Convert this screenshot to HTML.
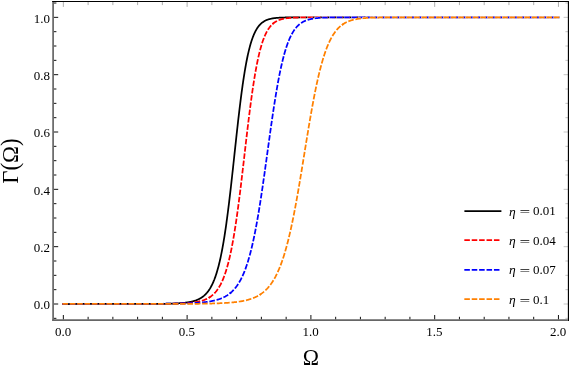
<!DOCTYPE html><html><head><meta charset="utf-8"><style>html,body{margin:0;padding:0;background:#fff}svg{display:block;will-change:transform}text{font-family:"Liberation Serif",serif;fill:#000}</style></head><body>
<svg width="569" height="366" viewBox="0 0 569 366">
<rect width="569" height="366" fill="#fff"/>
<defs>
<path id="c0s0" d="M63.35 304.00 L83.51 303.99 L103.67 303.99 L107.91 303.99 L108.26 303.99 L108.62 303.99 L108.97 303.99 L109.32 303.99 L109.68 303.99 L110.03 303.99 L110.38 303.99 L110.74 303.99 L111.09 303.99 L111.45 303.99 L111.80 303.99 L112.15 303.99 L112.51 303.99 L112.86 303.99 L113.21 303.99 L113.57 303.99 L113.92 303.99 L114.27 303.99 L114.63 303.99 L114.98 303.99 L115.34 303.99 L115.69 303.99 L116.04 303.99 L116.40 303.99 L116.75 303.99 L117.10 303.99 L117.46 303.99 L117.81 303.99 L118.16 303.99 L118.52 303.99 L118.87 303.98 L119.23 303.98 L119.58 303.98 L119.93 303.98 L120.29 303.98 L120.64 303.98 L120.99 303.98 L121.35 303.98 L121.70 303.98 L122.05 303.98 L122.41 303.98 L122.76 303.98 L123.12 303.98 L123.47 303.98 L123.82 303.98 L124.18 303.98 L124.53 303.98 L124.88 303.98 L125.24 303.98 L125.59 303.98 L125.94 303.98 L126.30 303.98 L126.65 303.98 L127.01 303.98 L127.36 303.98 L127.71 303.98 L128.07 303.98 L128.42 303.98 L128.77 303.98 L129.13 303.98 L129.48 303.98 L129.83 303.97 L130.19 303.97 L130.54 303.97 L130.90 303.97 L131.25 303.97 L131.60 303.97 L131.96 303.97 L132.31 303.97 L132.66 303.97 L133.02 303.97 L133.37 303.97 L133.72 303.97 L134.08 303.97 L134.43 303.97 L134.79 303.97 L135.14 303.97 L135.49 303.97 L135.85 303.97 L136.20 303.96 L136.55 303.96 L136.91 303.96 L137.26 303.96 L137.62 303.96 L137.97 303.96 L138.32 303.96 L138.68 303.96 L139.03 303.96 L139.38 303.96 L139.74 303.96 L140.09 303.96 L140.44 303.96 L140.80 303.95 L141.15 303.95 L141.51 303.95 L141.86 303.95 L142.21 303.95 L142.57 303.95 L142.92 303.95 L143.27 303.95 L143.63 303.95 L143.98 303.94 L144.33 303.94 L144.69 303.94 L145.04 303.94 L145.40 303.94 L145.75 303.94 L146.10 303.94 L146.46 303.94 L146.81 303.93 L147.16 303.93 L147.52 303.93 L147.87 303.93 L148.22 303.93 L148.58 303.93 L148.93 303.92 L149.29 303.92 L149.64 303.92 L149.99 303.92 L150.35 303.92 L150.70 303.91 L151.05 303.91 L151.41 303.91 L151.76 303.91 L152.11 303.91 L152.47 303.90 L152.82 303.90 L153.18 303.90 L153.53 303.90 L153.88 303.89 L154.24 303.89 L154.59 303.89 L154.94 303.89 L155.30 303.88 L155.65 303.88 L156.00 303.88 L156.36 303.87 L156.71 303.87 L157.07 303.87 L157.42 303.87 L157.77 303.86 L158.13 303.86 L158.48 303.85 L158.83 303.85 L159.19 303.85 L159.54 303.84 L159.89 303.84 L160.25 303.83 L160.60 303.83 L160.96 303.83 L161.31 303.82 L161.66 303.82 L162.02 303.81 L162.37 303.81 L162.72 303.80 L163.08 303.80 L163.43 303.79 L163.78 303.78 L164.14 303.78 L164.49 303.77 L164.85 303.77 L165.20 303.76 L165.55 303.75 L165.91 303.75 L166.26 303.74 L166.61 303.73 L166.97 303.72 L167.32 303.72 L167.67 303.71 L168.03 303.70 L168.38 303.69 L168.74 303.68 L169.09 303.67 L169.44 303.66 L169.80 303.65 L170.15 303.64 L170.50 303.63 L170.86 303.62 L171.21 303.61 L171.56 303.60 L171.92 303.59 L172.27 303.58 L172.63 303.56 L172.98 303.55 L173.33 303.54 L173.69 303.52 L174.04 303.51 L174.39 303.50 L174.75 303.48 L175.10 303.46 L175.45 303.45 L175.81 303.43 L176.16 303.41 L176.52 303.40 L176.87 303.38 L177.22 303.36 L177.58 303.34 L177.93 303.32 L178.28 303.30 L178.64 303.27 L178.99 303.25 L179.34 303.23 L179.70 303.20 L180.05 303.18 L180.41 303.15 L180.76 303.12 L181.11 303.10 L181.47 303.07 L181.82 303.04 L182.17 303.01 L182.53 302.97 L182.88 302.94 L183.23 302.91 L183.59 302.87 L183.94 302.83 L184.30 302.80 L184.65 302.76 L185.00 302.72 L185.36 302.67 L185.71 302.63 L186.06 302.58 L186.42 302.54 L186.77 302.49 L187.12 302.44 L187.48 302.38 L187.83 302.33 L188.19 302.27 L188.54 302.22 L188.89 302.15 L189.25 302.09 L189.60 302.03 L189.95 301.96 L190.31 301.89 L190.66 301.82 L191.02 301.74 L191.37 301.66 L191.72 301.58 L192.08 301.50 L192.43 301.41 L192.78 301.32 L193.14 301.23 L193.49 301.13 L193.84 301.03 L194.20 300.92 L194.55 300.81 L194.91 300.70 L195.26 300.58 L195.61 300.46 L195.97 300.34 L196.32 300.20 L196.67 300.07 L197.03 299.93 L197.38 299.78 L197.73 299.63 L198.09 299.47 L198.44 299.31 L198.80 299.13 L199.15 298.96 L199.50 298.77 L199.86 298.58 L200.21 298.38 L200.56 298.18 L200.92 297.96 L201.27 297.74 L201.62 297.51 L201.98 297.27 L202.33 297.02 L202.69 296.76 L203.04 296.50 L203.39 296.22 L203.75 295.93 L204.10 295.63 L204.45 295.31 L204.81 294.99 L205.16 294.65 L205.51 294.30 L205.87 293.94 L206.22 293.56 L206.58 293.16 L206.93 292.76 L207.28 292.33 L207.64 291.89 L207.99 291.43 L208.34 290.96 L208.70 290.47 L209.05 289.95 L209.40 289.42 L209.76 288.87 L210.11 288.30 L210.47 287.70 L210.82 287.08 L211.17 286.44 L211.53 285.78 L211.88 285.08 L212.23 284.37 L212.59 283.62 L212.94 282.85 L213.29 282.05 L213.65 281.22 L214.00 280.36 L214.36 279.47 L214.71 278.54 L215.06 277.58 L215.42 276.59 L215.77 275.56 L216.12 274.50 L216.48 273.39 L216.83 272.25 L217.18 271.07 L217.54 269.84 L217.89 268.58 L218.25 267.27 L218.60 265.92 L218.95 264.52 L219.31 263.07 L219.66 261.58 L220.01 260.04 L220.37 258.46 L220.72 256.82 L221.07 255.13 L221.43 253.39 L221.78 251.59 L222.14 249.75 L222.49 247.85 L222.84 245.89 L223.20 243.88 L223.55 241.82 L223.90 239.70 L224.26 237.52 L224.61 235.29 L224.96 233.00 L225.32 230.66 L225.67 228.26 L226.03 225.81 L226.38 223.30 L226.73 220.74 L227.09 218.12 L227.44 215.46 L227.79 212.74 L228.15 209.97 L228.50 207.15 L228.85 204.29 L229.21 201.38 L229.56 198.43 L229.92 195.43 L230.27 192.40 L230.62 189.33 L230.98 186.23 L231.33 183.09 L231.68 179.93 L232.04 176.74 L232.39 173.53 L232.74 170.30 L233.10 167.05 L233.45 163.78 L233.81 160.51 L234.16 157.23 L234.51 153.95 L234.87 150.67 L235.22 147.39 L235.57 144.12 L235.93 140.86 L236.28 137.61 L236.63 134.38 L236.99 131.18 L237.34 127.99 L237.70 124.84 L238.05 121.71 L238.40 118.62 L238.76 115.56 L239.11 112.54 L239.46 109.57 L239.82 106.64 L240.17 103.75 L240.53 100.91 L240.88 98.12 L241.23 95.39 L241.59 92.70 L241.94 90.08 L242.29 87.51 L242.65 84.99 L243.00 82.53 L243.35 80.14 L243.71 77.80 L244.06 75.52 L244.42 73.31 L244.77 71.15 L245.12 69.05 L245.48 67.02 L245.83 65.04 L246.18 63.12 L246.54 61.27 L246.89 59.47 L247.24 57.73 L247.60 56.05 L247.95 54.42 L248.31 52.85 L248.66 51.34 L249.01 49.87 L249.37 48.46 L249.72 47.10 L250.07 45.80 L250.43 44.54 L250.78 43.33 L251.13 42.16 L251.49 41.04 L251.84 39.97 L252.20 38.94 L252.55 37.95 L252.90 37.00 L253.26 36.08 L253.61 35.21 L253.96 34.37 L254.32 33.57 L254.67 32.81 L255.02 32.07 L255.38 31.37 L255.73 30.70 L256.09 30.06 L256.44 29.44 L256.79 28.86 L257.15 28.30 L257.50 27.76 L257.85 27.25 L258.21 26.76 L258.56 26.30 L258.91 25.86 L259.27 25.43 L259.62 25.03 L259.98 24.65 L260.33 24.28 L260.68 23.93 L261.04 23.60 L261.39 23.28 L261.74 22.98 L262.10 22.69 L262.45 22.42 L262.80 22.16 L263.16 21.92 L263.51 21.68 L263.87 21.46 L264.22 21.24 L264.57 21.04 L264.93 20.85 L265.28 20.67 L265.63 20.50 L265.99 20.33 L266.34 20.17 L266.69 20.03 L267.05 19.89 L267.40 19.75 L267.76 19.62 L268.11 19.50 L268.46 19.39 L268.82 19.28 L269.17 19.18 L269.52 19.08 L269.88 18.99 L270.23 18.90 L270.58 18.82 L270.94 18.74 L271.29 18.66 L271.65 18.59 L272.00 18.52 L272.35 18.46 L272.71 18.40 L273.06 18.34 L273.41 18.29 L273.77 18.24 L274.12 18.19 L274.47 18.14 L274.83 18.10 L275.18 18.06 L275.54 18.02 L275.89 17.98 L276.24 17.95 L276.60 17.91 L276.95 17.88 L277.30 17.85 L277.66 17.83 L278.01 17.80 L278.36 17.77 L278.72 17.75 L279.07 17.73 L279.43 17.71 L279.78 17.69 L280.13 17.67 L280.49 17.65 L280.84 17.63 L281.19 17.62 L281.55 17.60 L281.90 17.59 L282.25 17.57 L282.61 17.56 L282.96 17.55 L283.32 17.54 L283.67 17.53 L284.02 17.52 L284.38 17.51 L284.73 17.50 L285.08 17.49 L285.44 17.48 L285.79 17.47 L286.15 17.47 L286.50 17.46 L286.85 17.45 L287.21 17.45 L287.56 17.44 L287.91 17.44 L288.27 17.43 L288.62 17.43 L288.97 17.42 L289.33 17.42 L289.68 17.41 L290.04 17.41 L290.39 17.41 L290.74 17.40 L291.10 17.40 L291.45 17.40 L291.80 17.39 L292.16 17.39 L292.51 17.39 L292.86 17.39 L293.22 17.38 L293.57 17.38 L293.93 17.38 L294.28 17.38 L294.63 17.38 L294.99 17.38 L295.34 17.37 L295.69 17.37 L296.05 17.37 L296.40 17.37 L296.75 17.37 L297.11 17.37 L297.46 17.37 L297.82 17.37 L298.17 17.36 L298.52 17.36 L298.88 17.36 L299.23 17.36 L299.58 17.36 L299.94 17.36 L302.77 17.36 L308.42 17.35 L328.58 17.35 L348.74 17.35 L368.90 17.35 L389.06 17.35 L409.21 17.35 L429.37 17.35 L449.53 17.35 L469.69 17.35 L489.84 17.35 L510.00 17.35 L530.16 17.35 L550.32 17.35 L558.45 17.35"/>
<path id="c1s0" d="M63.35 303.99 L83.51 303.99 L103.67 303.99 L105.79 303.99 L106.14 303.99 L106.49 303.99 L106.85 303.99 L107.20 303.99 L107.56 303.99 L107.91 303.99 L108.26 303.99 L108.62 303.99 L108.97 303.99 L109.32 303.99 L109.68 303.99 L110.03 303.99 L110.38 303.99 L110.74 303.99 L111.09 303.99 L111.45 303.99 L111.80 303.99 L112.15 303.99 L112.51 303.99 L112.86 303.99 L113.21 303.99 L113.57 303.99 L113.92 303.99 L114.27 303.99 L114.63 303.99 L114.98 303.99 L115.34 303.99 L115.69 303.99 L116.04 303.99 L116.40 303.99 L116.75 303.99 L117.10 303.99 L117.46 303.99 L117.81 303.99 L118.16 303.99 L118.52 303.98 L118.87 303.98 L119.23 303.98 L119.58 303.98 L119.93 303.98 L120.29 303.98 L120.64 303.98 L120.99 303.98 L121.35 303.98 L121.70 303.98 L122.05 303.98 L122.41 303.98 L122.76 303.98 L123.12 303.98 L123.47 303.98 L123.82 303.98 L124.18 303.98 L124.53 303.98 L124.88 303.98 L125.24 303.98 L125.59 303.98 L125.94 303.98 L126.30 303.98 L126.65 303.98 L127.01 303.98 L127.36 303.98 L127.71 303.98 L128.07 303.98 L128.42 303.98 L128.77 303.98 L129.13 303.98 L129.48 303.98 L129.83 303.98 L130.19 303.98 L130.54 303.98 L130.90 303.97 L131.25 303.97 L131.60 303.97 L131.96 303.97 L132.31 303.97 L132.66 303.97 L133.02 303.97 L133.37 303.97 L133.72 303.97 L134.08 303.97 L134.43 303.97 L134.79 303.97 L135.14 303.97 L135.49 303.97 L135.85 303.97 L136.20 303.97 L136.55 303.97 L136.91 303.97 L137.26 303.97 L137.62 303.97 L137.97 303.96 L138.32 303.96 L138.68 303.96 L139.03 303.96 L139.38 303.96 L139.74 303.96 L140.09 303.96 L140.44 303.96 L140.80 303.96 L141.15 303.96 L141.51 303.96 L141.86 303.96 L142.21 303.96 L142.57 303.96 L142.92 303.95 L143.27 303.95 L143.63 303.95 L143.98 303.95 L144.33 303.95 L144.69 303.95 L145.04 303.95 L145.40 303.95 L145.75 303.95 L146.10 303.95 L146.46 303.95 L146.81 303.94 L147.16 303.94 L147.52 303.94 L147.87 303.94 L148.22 303.94 L148.58 303.94 L148.93 303.94 L149.29 303.94 L149.64 303.93 L149.99 303.93 L150.35 303.93 L150.70 303.93 L151.05 303.93 L151.41 303.93 L151.76 303.93 L152.11 303.92 L152.47 303.92 L152.82 303.92 L153.18 303.92 L153.53 303.92 L153.88 303.92 L154.24 303.91 L154.59 303.91 L154.94 303.91 L155.30 303.91 L155.65 303.91 L156.00 303.90 L156.36 303.90 L156.71 303.90 L157.07 303.90 L157.42 303.89 L157.77 303.89 L158.13 303.89 L158.48 303.89 L158.83 303.89 L159.19 303.88 L159.54 303.88 L159.89 303.88 L160.25 303.87 L160.60 303.87 L160.96 303.87 L161.31 303.87 L161.66 303.86 L162.02 303.86 L162.37 303.86 L162.72 303.85 L163.08 303.85 L163.43 303.84 L163.78 303.84 L164.14 303.84 L164.49 303.83 L164.85 303.83 L165.20 303.83 L165.55 303.82 L165.91 303.82 L166.26 303.81 L166.61 303.81 L166.97 303.80 L167.32 303.80 L167.67 303.79 L168.03 303.79 L168.38 303.78 L168.74 303.78 L169.09 303.77 L169.44 303.77 L169.80 303.76 L170.15 303.75 L170.50 303.75 L170.86 303.74 L171.21 303.73 L171.56 303.73 L171.92 303.72 L172.27 303.71 L172.63 303.71 L172.98 303.70 L173.33 303.69 L173.69 303.68 L174.04 303.67 L174.39 303.66 L174.75 303.66 L175.10 303.65 L175.45 303.64 L175.81 303.63 L176.16 303.62 L176.52 303.61 L176.87 303.60 L177.22 303.59 L177.58 303.57 L177.93 303.56 L178.28 303.55 L178.64 303.54 L178.99 303.53 L179.34 303.51 L179.70 303.50 L180.05 303.48 L180.41 303.47 L180.76 303.46 L181.11 303.44 L181.47 303.42 L181.82 303.41 L182.17 303.39 L182.53 303.37 L182.88 303.36 L183.23 303.34 L183.59 303.32 L183.94 303.30 L184.30 303.28 L184.65 303.26 L185.00 303.24 L185.36 303.21 L185.71 303.19 L186.06 303.17 L186.42 303.14 L186.77 303.12 L187.12 303.09 L187.48 303.07 L187.83 303.04 L188.19 303.01 L188.54 302.98 L188.89 302.95 L189.25 302.92 L189.60 302.89 L189.95 302.85 L190.31 302.82 L190.66 302.78 L191.02 302.74 L191.37 302.71 L191.72 302.67 L192.08 302.63 L192.43 302.58 L192.78 302.54 L193.14 302.49 L193.49 302.45 L193.84 302.40 L194.20 302.35 L194.55 302.30 L194.91 302.25 L195.26 302.19 L195.61 302.13 L195.97 302.07 L196.32 302.01 L196.67 301.95 L197.03 301.89 L197.38 301.82 L197.73 301.75 L198.09 301.68 L198.44 301.60 L198.80 301.53 L199.15 301.45 L199.50 301.36 L199.86 301.28 L200.21 301.19 L200.56 301.10 L200.92 301.00 L201.27 300.91 L201.62 300.80 L201.98 300.70 L202.33 300.59 L202.69 300.48 L203.04 300.36 L203.39 300.24 L203.75 300.12 L204.10 299.99 L204.45 299.85 L204.81 299.72 L205.16 299.57 L205.51 299.42 L205.87 299.27 L206.22 299.11 L206.58 298.95 L206.93 298.78 L207.28 298.60 L207.64 298.42 L207.99 298.23 L208.34 298.03 L208.70 297.83 L209.05 297.61 L209.39 297.41"/>
<path id="c1s1" d="M209.39 297.41 L209.40 297.40 L209.76 297.17 L210.11 296.94 L210.47 296.69 L210.82 296.44 L211.17 296.18 L211.53 295.91 L211.88 295.63 L212.23 295.34 L212.59 295.04 L212.94 294.73 L213.29 294.41 L213.65 294.07 L214.00 293.73 L214.36 293.37 L214.71 293.00 L215.06 292.61 L215.42 292.22 L215.77 291.80 L216.12 291.38 L216.48 290.93 L216.83 290.47 L217.18 290.00 L217.54 289.51 L217.89 289.00 L218.25 288.47 L218.60 287.93 L218.95 287.36 L219.31 286.77 L219.66 286.17 L220.01 285.54 L220.37 284.89 L220.72 284.22 L221.07 283.52 L221.43 282.80 L221.78 282.06 L222.14 281.29 L222.49 280.49 L222.84 279.67 L223.20 278.82 L223.55 277.94 L223.90 277.03 L224.26 276.09 L224.61 275.11 L224.96 274.11 L225.32 273.07 L225.67 272.00 L226.03 270.89 L226.38 269.75 L226.73 268.57 L227.09 267.36 L227.44 266.10 L227.79 264.81 L228.15 263.48 L228.50 262.11 L228.85 260.69 L229.21 259.24 L229.56 257.74 L229.92 256.19 L230.27 254.61 L230.62 252.97 L230.98 251.30 L231.33 249.57 L231.68 247.80 L232.04 245.98 L232.39 244.12 L232.74 242.20 L233.10 240.24 L233.45 238.23 L233.81 236.18 L234.16 234.07 L234.51 231.92 L234.87 229.71 L235.22 227.46 L235.57 225.16 L235.93 222.82 L236.28 220.43 L236.63 217.99 L236.99 215.50 L237.34 212.98 L237.70 210.41 L238.05 207.79 L238.40 205.14 L238.76 202.44 L239.11 199.71 L239.46 196.94 L239.82 194.14 L240.17 191.30 L240.53 188.43 L240.88 185.54 L241.23 182.61 L241.59 179.66 L241.94 176.69 L242.29 173.70 L242.65 170.69 L243.00 167.67 L243.35 164.63 L243.71 161.59 L244.06 158.54 L244.42 155.48 L244.77 152.43 L245.12 149.37 L245.48 146.32 L245.83 143.27 L246.18 140.24 L246.54 137.22 L246.89 134.21 L247.24 131.23 L247.60 128.26 L247.95 125.32 L248.31 122.40 L248.66 119.51 L249.01 116.65 L249.37 113.83 L249.72 111.03 L250.07 108.28 L250.43 105.57 L250.78 102.89 L251.13 100.26 L251.49 97.67 L251.84 95.13 L252.20 92.63 L252.55 90.18 L252.90 87.78 L253.26 85.43 L253.61 83.13 L253.96 80.88 L254.32 78.68 L254.67 76.54 L255.02 74.44 L255.38 72.40 L255.73 70.41 L256.09 68.48 L256.44 66.59 L256.79 64.76 L257.15 62.98 L257.50 61.25 L257.85 59.58 L258.21 57.95 L258.56 56.37 L258.91 54.85 L259.27 53.37 L259.62 51.93 L259.98 50.55 L260.33 49.21 L260.68 47.92 L261.04 46.67 L261.39 45.46 L261.74 44.30 L262.10 43.18 L262.45 42.09 L262.80 41.05 L263.16 40.05 L263.51 39.08 L263.87 38.15 L264.22 37.26 L264.57 36.40 L264.93 35.57 L265.28 34.77 L265.63 34.01 L265.99 33.28 L266.34 32.57 L266.69 31.89 L267.05 31.25 L267.40 30.62 L267.76 30.03 L268.11 29.45 L268.46 28.91 L268.82 28.38 L269.17 27.88 L269.52 27.40 L269.88 26.93 L270.23 26.49 L270.58 26.07 L270.94 25.67 L271.29 25.28 L271.65 24.91 L272.00 24.56 L272.35 24.22 L272.71 23.89 L273.06 23.59 L273.10 23.55"/>
<path id="c1s2" d="M273.10 23.55 L273.41 23.29 L273.77 23.01 L274.12 22.74 L274.47 22.48 L274.83 22.24 L275.18 22.00 L275.54 21.78 L275.89 21.57 L276.24 21.36 L276.60 21.17 L276.95 20.98 L277.30 20.81 L277.66 20.64 L278.01 20.48 L278.36 20.33 L278.72 20.18 L279.07 20.04 L279.43 19.91 L279.78 19.78 L280.13 19.66 L280.49 19.55 L280.84 19.44 L281.19 19.33 L281.55 19.24 L281.90 19.14 L282.25 19.05 L282.61 18.97 L282.96 18.89 L283.32 18.81 L283.67 18.74 L284.02 18.67 L284.38 18.60 L284.73 18.54 L285.08 18.48 L285.44 18.42 L285.79 18.36 L286.15 18.31 L286.50 18.26 L286.85 18.22 L287.21 18.17 L287.56 18.13 L287.91 18.09 L288.27 18.05 L288.62 18.02 L288.97 17.98 L289.33 17.95 L289.68 17.92 L290.04 17.89 L290.39 17.86 L290.74 17.83 L291.10 17.81 L291.45 17.78 L291.80 17.76 L292.16 17.74 L292.51 17.72 L292.86 17.70 L293.22 17.68 L293.57 17.66 L293.93 17.65 L294.28 17.63 L294.63 17.62 L294.99 17.60 L295.34 17.59 L295.69 17.58 L296.05 17.56 L296.40 17.55 L296.75 17.54 L297.11 17.53 L297.46 17.52 L297.82 17.51 L298.17 17.50 L298.52 17.50 L298.88 17.49 L299.23 17.48 L299.58 17.47 L299.94 17.47 L300.29 17.46 L300.64 17.45 L301.00 17.45 L301.35 17.44 L301.71 17.44 L302.06 17.43 L302.41 17.43 L302.77 17.42 L303.12 17.42 L303.47 17.42 L303.83 17.41 L304.18 17.41 L304.53 17.41 L304.89 17.40 L305.24 17.40 L305.60 17.40 L305.95 17.39 L306.30 17.39 L306.66 17.39 L307.01 17.39 L307.36 17.39 L307.72 17.38 L308.07 17.38 L308.42 17.38 L308.78 17.38 L309.13 17.38 L309.49 17.38 L309.84 17.37 L310.19 17.37 L310.55 17.37 L310.90 17.37 L311.25 17.37 L311.61 17.37 L311.96 17.37 L312.31 17.37 L312.67 17.36 L313.02 17.36 L313.38 17.36 L313.73 17.36 L314.08 17.36 L314.44 17.36 L314.79 17.36 L317.97 17.36 L324.34 17.35 L344.50 17.35 L364.65 17.35 L384.81 17.35 L404.97 17.35 L425.13 17.35 L445.28 17.35 L465.44 17.35 L485.60 17.35 L505.76 17.35 L525.91 17.35 L546.07 17.35 L558.45 17.35"/>
<path id="c2s0" d="M63.35 303.85 L63.70 303.86 L64.06 303.86 L64.41 303.86 L64.76 303.86 L65.12 303.86 L65.47 303.86 L65.83 303.86 L66.18 303.86 L66.53 303.87 L66.89 303.87 L67.24 303.87 L67.59 303.87 L67.95 303.87 L68.30 303.87 L68.65 303.87 L69.01 303.87 L69.36 303.87 L69.72 303.88 L70.07 303.88 L70.42 303.88 L70.78 303.88 L71.13 303.88 L71.48 303.88 L71.84 303.88 L72.19 303.88 L72.54 303.88 L72.90 303.88 L73.25 303.88 L73.61 303.88 L73.96 303.89 L74.31 303.89 L74.67 303.89 L75.02 303.89 L75.37 303.89 L75.73 303.89 L76.08 303.89 L76.43 303.89 L76.79 303.89 L77.14 303.89 L77.50 303.89 L77.85 303.89 L78.20 303.89 L78.56 303.89 L78.91 303.90 L79.26 303.90 L79.62 303.90 L79.97 303.90 L80.32 303.90 L80.68 303.90 L81.03 303.90 L81.39 303.90 L81.74 303.90 L82.09 303.90 L82.45 303.90 L82.80 303.90 L83.15 303.90 L83.51 303.90 L83.86 303.90 L84.21 303.90 L84.57 303.90 L84.92 303.90 L85.28 303.90 L85.63 303.91 L85.98 303.91 L86.34 303.91 L86.69 303.91 L87.04 303.91 L87.40 303.91 L87.75 303.91 L88.11 303.91 L88.46 303.91 L88.81 303.91 L89.17 303.91 L89.52 303.91 L89.87 303.91 L90.23 303.91 L90.58 303.91 L90.93 303.91 L91.29 303.91 L91.64 303.91 L92.00 303.91 L92.35 303.91 L92.70 303.91 L93.06 303.91 L93.41 303.91 L93.76 303.91 L94.12 303.91 L94.47 303.91 L94.82 303.91 L95.18 303.91 L95.53 303.91 L95.89 303.91 L96.24 303.91 L96.59 303.91 L96.95 303.91 L97.30 303.91 L97.65 303.91 L98.01 303.91 L98.36 303.91 L98.71 303.91 L99.07 303.91 L99.42 303.91 L99.78 303.92 L100.13 303.92 L100.48 303.92 L100.84 303.92 L101.19 303.92 L101.54 303.92 L101.90 303.92 L102.25 303.92 L102.60 303.92 L102.96 303.92 L103.31 303.92 L103.67 303.92 L104.02 303.92 L104.37 303.92 L104.73 303.92 L105.08 303.92 L105.43 303.92 L105.79 303.92 L106.14 303.92 L106.49 303.92 L106.85 303.92 L107.20 303.92 L107.56 303.92 L107.91 303.92 L108.26 303.92 L108.62 303.92 L108.97 303.92 L109.32 303.92 L109.68 303.92 L110.03 303.92 L110.38 303.92 L110.74 303.92 L111.09 303.91 L111.45 303.91 L111.80 303.91 L112.15 303.91 L112.51 303.91 L112.86 303.91 L113.21 303.91 L113.57 303.91 L113.92 303.91 L114.27 303.91 L114.63 303.91 L114.98 303.91 L115.34 303.91 L115.69 303.91 L116.04 303.91 L116.40 303.91 L116.75 303.91 L117.10 303.91 L117.46 303.91 L117.81 303.91 L118.16 303.91 L118.52 303.91 L118.87 303.91 L119.23 303.91 L119.58 303.91 L119.93 303.91 L120.29 303.91 L120.64 303.91 L120.99 303.91 L121.35 303.91 L121.70 303.91 L122.05 303.91 L122.41 303.91 L122.76 303.91 L123.12 303.91 L123.47 303.91 L123.82 303.91 L124.18 303.91 L124.53 303.91 L124.88 303.90 L125.24 303.90 L125.59 303.90 L125.94 303.90 L126.30 303.90 L126.65 303.90 L127.01 303.90 L127.36 303.90 L127.71 303.90 L128.07 303.90 L128.42 303.90 L128.77 303.90 L129.13 303.90 L129.48 303.90 L129.83 303.90 L130.19 303.90 L130.54 303.90 L130.90 303.90 L131.25 303.90 L131.60 303.90 L131.96 303.89 L132.31 303.89 L132.66 303.89 L133.02 303.89 L133.37 303.89 L133.72 303.89 L134.08 303.89 L134.43 303.89 L134.79 303.89 L135.14 303.89 L135.49 303.89 L135.85 303.89 L136.20 303.89 L136.55 303.89 L136.91 303.88 L137.26 303.88 L137.62 303.88 L137.97 303.88 L138.32 303.88 L138.68 303.88 L139.03 303.88 L139.38 303.88 L139.74 303.88 L140.09 303.88 L140.44 303.88 L140.80 303.87 L141.15 303.87 L141.51 303.87 L141.86 303.87 L142.21 303.87 L142.57 303.87 L142.92 303.87 L143.27 303.87 L143.63 303.87 L143.98 303.87 L144.33 303.86 L144.69 303.86 L145.04 303.86 L145.40 303.86 L145.75 303.86 L146.10 303.86 L146.46 303.86 L146.81 303.86 L147.16 303.85 L147.52 303.85 L147.87 303.85 L148.22 303.85 L148.58 303.85 L148.93 303.85 L149.29 303.85 L149.64 303.84 L149.99 303.84 L150.35 303.84 L150.70 303.84 L151.05 303.84 L151.41 303.84 L151.76 303.83 L152.11 303.83 L152.47 303.83 L152.82 303.83 L153.18 303.83 L153.53 303.83 L153.88 303.82 L154.24 303.82 L154.59 303.82 L154.94 303.82 L155.30 303.82 L155.65 303.81 L156.00 303.81 L156.36 303.81 L156.71 303.81 L157.07 303.80 L157.42 303.80 L157.77 303.80 L158.13 303.80 L158.48 303.80 L158.83 303.79 L159.19 303.79 L159.54 303.79 L159.89 303.79 L160.25 303.78 L160.60 303.78 L160.96 303.78 L161.31 303.77 L161.66 303.77 L162.02 303.77 L162.37 303.77 L162.72 303.76 L163.08 303.76 L163.43 303.76 L163.78 303.75 L164.14 303.75 L164.49 303.75 L164.85 303.74 L165.20 303.74 L165.55 303.74 L165.91 303.73 L166.26 303.73 L166.61 303.73 L166.97 303.72 L167.32 303.72 L167.67 303.71 L168.03 303.71 L168.38 303.71 L168.74 303.70 L169.09 303.70 L169.44 303.69 L169.80 303.69 L170.15 303.68 L170.50 303.68 L170.86 303.68 L171.21 303.67 L171.56 303.67 L171.92 303.66 L172.27 303.66 L172.63 303.65 L172.98 303.65 L173.33 303.64 L173.69 303.63 L174.04 303.63 L174.39 303.62 L174.75 303.62 L175.10 303.61 L175.45 303.61 L175.81 303.60 L176.16 303.59 L176.52 303.59 L176.87 303.58 L177.22 303.57 L177.58 303.57 L177.93 303.56 L178.28 303.55 L178.64 303.54 L178.99 303.54 L179.34 303.53 L179.70 303.52 L180.05 303.51 L180.41 303.51 L180.76 303.50 L181.11 303.49 L181.47 303.48 L181.82 303.47 L182.17 303.46 L182.53 303.45 L182.88 303.44 L183.23 303.43 L183.59 303.42 L183.94 303.41 L184.30 303.40 L184.65 303.39 L185.00 303.38 L185.36 303.37 L185.71 303.36 L186.06 303.35 L186.42 303.34 L186.77 303.32 L187.12 303.31 L187.48 303.30 L187.83 303.29 L188.19 303.27 L188.54 303.26 L188.89 303.25 L189.25 303.23 L189.60 303.22 L189.95 303.20 L190.31 303.19 L190.66 303.17 L191.02 303.16 L191.37 303.14 L191.72 303.12 L192.08 303.11 L192.43 303.09 L192.78 303.07 L193.14 303.05 L193.49 303.04 L193.84 303.02 L194.20 303.00 L194.55 302.98 L194.91 302.96 L195.26 302.94 L195.61 302.91 L195.97 302.89 L196.32 302.87 L196.67 302.85 L197.03 302.82 L197.38 302.80 L197.73 302.77 L198.09 302.75 L198.44 302.72 L198.80 302.70 L199.15 302.67 L199.50 302.64 L199.86 302.61 L200.21 302.58 L200.56 302.55 L200.92 302.52 L201.27 302.49 L201.62 302.46 L201.98 302.42 L202.33 302.39 L202.69 302.36 L203.04 302.32 L203.39 302.28 L203.75 302.25 L204.10 302.21 L204.45 302.17 L204.81 302.13 L205.16 302.09 L205.51 302.04 L205.87 302.00 L206.22 301.95 L206.58 301.91 L206.93 301.86 L207.28 301.81 L207.64 301.76 L207.99 301.71 L208.34 301.66 L208.70 301.61 L209.05 301.55 L209.40 301.49 L209.76 301.43 L210.11 301.38 L210.47 301.31 L210.82 301.25 L211.17 301.19 L211.53 301.12 L211.88 301.05 L212.23 300.98 L212.59 300.91 L212.94 300.84 L213.29 300.76 L213.65 300.68 L214.00 300.60 L214.36 300.52 L214.71 300.44 L215.06 300.35 L215.42 300.26 L215.77 300.17 L216.12 300.08 L216.48 299.98 L216.83 299.88 L217.18 299.78 L217.54 299.67 L217.89 299.57 L218.25 299.46 L218.60 299.34 L218.95 299.23 L219.31 299.11 L219.66 298.98 L220.01 298.86 L220.37 298.72 L220.72 298.59 L221.07 298.45 L221.43 298.31 L221.78 298.17 L222.14 298.02 L222.49 297.86 L222.84 297.70 L223.20 297.54 L223.55 297.37 L223.90 297.20 L224.26 297.02 L224.61 296.84 L224.96 296.65 L225.32 296.46 L225.67 296.26 L226.03 296.06 L226.38 295.85 L226.73 295.63 L227.09 295.41 L227.44 295.18 L227.79 294.95 L228.15 294.71 L228.50 294.46 L228.85 294.20 L229.21 293.94 L229.56 293.67 L229.92 293.39 L230.27 293.10 L230.37 293.02"/>
<path id="c2s1" d="M230.37 293.02 L230.62 292.81 L230.98 292.51 L231.33 292.19 L231.68 291.87 L232.04 291.54 L232.39 291.20 L232.74 290.85 L233.10 290.49 L233.45 290.12 L233.81 289.74 L234.16 289.35 L234.51 288.95 L234.87 288.53 L235.22 288.10 L235.57 287.67 L235.93 287.21 L236.28 286.75 L236.63 286.27 L236.99 285.78 L237.34 285.27 L237.70 284.75 L238.05 284.22 L238.40 283.67 L238.76 283.10 L239.11 282.52 L239.46 281.92 L239.82 281.31 L240.17 280.68 L240.53 280.03 L240.88 279.36 L241.23 278.67 L241.59 277.97 L241.94 277.24 L242.29 276.49 L242.65 275.73 L243.00 274.94 L243.35 274.13 L243.71 273.30 L244.06 272.45 L244.42 271.57 L244.77 270.67 L245.12 269.75 L245.48 268.80 L245.83 267.83 L246.18 266.83 L246.54 265.81 L246.89 264.76 L247.24 263.68 L247.60 262.58 L247.95 261.44 L248.31 260.28 L248.66 259.09 L249.01 257.87 L249.37 256.62 L249.72 255.34 L250.07 254.03 L250.43 252.69 L250.78 251.32 L251.13 249.92 L251.49 248.48 L251.84 247.01 L252.20 245.51 L252.55 243.98 L252.90 242.41 L253.26 240.81 L253.61 239.18 L253.96 237.51 L254.32 235.81 L254.67 234.08 L255.02 232.31 L255.38 230.51 L255.73 228.67 L256.09 226.80 L256.44 224.89 L256.79 222.96 L257.15 220.99 L257.50 218.98 L257.85 216.95 L258.21 214.88 L258.56 212.78 L258.91 210.65 L259.27 208.49 L259.62 206.30 L259.98 204.08 L260.33 201.84 L260.68 199.56 L261.04 197.26 L261.39 194.93 L261.74 192.58 L262.10 190.21 L262.45 187.81 L262.80 185.39 L263.16 182.95 L263.51 180.49 L263.87 178.01 L264.22 175.52 L264.57 173.02 L264.93 170.50 L265.28 167.97 L265.63 165.42 L265.99 162.87 L266.34 160.32 L266.69 157.75 L267.05 155.19 L267.40 152.62 L267.76 150.05 L268.11 147.48 L268.46 144.92 L268.82 142.36 L269.17 139.80 L269.52 137.26 L269.88 134.72 L270.23 132.20 L270.58 129.69 L270.94 127.19 L271.29 124.71 L271.65 122.24 L272.00 119.80 L272.35 117.38 L272.71 114.97 L273.06 112.60 L273.41 110.24 L273.77 107.91 L274.12 105.61 L274.47 103.34 L274.83 101.09 L275.18 98.88 L275.54 96.70 L275.89 94.55 L276.24 92.43 L276.60 90.34 L276.95 88.29 L277.30 86.28 L277.66 84.30 L278.01 82.35 L278.36 80.45 L278.72 78.58 L279.07 76.74 L279.43 74.95 L279.78 73.19 L280.13 71.47 L280.49 69.78 L280.84 68.14 L281.19 66.53 L281.55 64.96 L281.90 63.42 L282.25 61.93 L282.61 60.47 L282.96 59.04 L283.32 57.66 L283.67 56.31 L284.02 54.99 L284.38 53.72 L284.73 52.47 L285.08 51.26 L285.44 50.09 L285.79 48.94 L286.15 47.84 L286.50 46.76 L286.85 45.71 L287.21 44.70 L287.56 43.72 L287.91 42.76 L288.27 41.84 L288.62 40.95 L288.97 40.08 L289.33 39.24 L289.68 38.43 L290.04 37.64 L290.39 36.88 L290.74 36.15 L291.10 35.44 L291.45 34.75 L291.80 34.09 L292.16 33.45 L292.51 32.83 L292.86 32.23 L293.22 31.65 L293.57 31.10 L293.93 30.56 L294.28 30.04 L294.63 29.54 L294.99 29.06 L295.34 28.60 L295.69 28.15 L296.05 27.72 L296.27 27.45"/>
<path id="c2s2" d="M296.27 27.45 L296.40 27.30 L296.75 26.90 L297.11 26.52 L297.46 26.15 L297.82 25.79 L298.17 25.45 L298.52 25.12 L298.88 24.80 L299.23 24.50 L299.58 24.20 L299.94 23.92 L300.29 23.65 L300.64 23.39 L301.00 23.13 L301.35 22.89 L301.71 22.66 L302.06 22.44 L302.41 22.23 L302.77 22.02 L303.12 21.82 L303.47 21.63 L303.83 21.45 L304.18 21.28 L304.53 21.11 L304.89 20.95 L305.24 20.80 L305.60 20.65 L305.95 20.51 L306.30 20.37 L306.66 20.24 L307.01 20.11 L307.36 19.99 L307.72 19.88 L308.07 19.77 L308.42 19.66 L308.78 19.56 L309.13 19.46 L309.49 19.37 L309.84 19.28 L310.19 19.20 L310.55 19.12 L310.90 19.04 L311.25 18.96 L311.61 18.89 L311.96 18.82 L312.31 18.76 L312.67 18.69 L313.02 18.63 L313.38 18.58 L313.73 18.52 L314.08 18.47 L314.44 18.42 L314.79 18.37 L315.14 18.32 L315.50 18.28 L315.85 18.24 L316.20 18.20 L316.56 18.16 L316.91 18.12 L317.27 18.09 L317.62 18.05 L317.97 18.02 L318.33 17.99 L318.68 17.96 L319.03 17.93 L319.39 17.90 L319.74 17.88 L320.09 17.85 L320.45 17.83 L320.80 17.81 L321.16 17.79 L321.51 17.77 L321.86 17.75 L322.22 17.73 L322.57 17.71 L322.92 17.69 L323.28 17.68 L323.63 17.66 L323.98 17.65 L324.34 17.63 L324.69 17.62 L325.05 17.61 L325.40 17.59 L325.75 17.58 L326.11 17.57 L326.46 17.56 L326.81 17.55 L327.17 17.54 L327.52 17.53 L327.87 17.52 L328.23 17.52 L328.58 17.51 L328.94 17.50 L329.29 17.49 L329.64 17.49 L330.00 17.48 L330.35 17.47 L330.70 17.47 L331.06 17.46 L331.41 17.46 L331.76 17.45 L332.12 17.45 L332.47 17.44 L332.83 17.44 L333.18 17.43 L333.53 17.43 L333.89 17.42 L334.24 17.42 L334.59 17.42 L334.95 17.41 L335.30 17.41 L335.66 17.41 L336.01 17.40 L336.36 17.40 L336.72 17.40 L337.07 17.40 L337.42 17.39 L337.78 17.39 L338.13 17.39 L338.48 17.39 L338.84 17.39 L339.19 17.38 L339.55 17.38 L339.90 17.38 L340.25 17.38 L340.61 17.38 L340.96 17.38 L341.31 17.38 L341.67 17.37 L342.02 17.37 L342.37 17.37 L342.73 17.37 L343.08 17.37 L343.44 17.37 L343.79 17.37 L344.14 17.37 L344.50 17.37 L344.85 17.36 L345.20 17.36 L345.56 17.36 L345.91 17.36 L346.26 17.36 L346.62 17.36 L346.97 17.36 L347.33 17.36 L350.86 17.36 L358.29 17.35 L378.45 17.35 L398.60 17.35 L418.76 17.35 L438.92 17.35 L459.08 17.35 L479.23 17.35 L499.39 17.35 L519.55 17.35 L539.71 17.35 L558.45 17.35"/>
<path id="c3s0" d="M63.35 303.99 L81.39 303.99 L81.74 303.99 L82.09 303.99 L82.45 303.99 L82.80 303.99 L83.15 303.99 L83.51 303.99 L83.86 303.99 L84.21 303.99 L84.57 303.99 L84.92 303.99 L85.28 303.99 L85.63 303.99 L85.98 303.99 L86.34 303.99 L86.69 303.99 L87.04 303.99 L87.40 303.99 L87.75 303.99 L88.11 303.99 L88.46 303.99 L88.81 303.99 L89.17 303.99 L89.52 303.99 L89.87 303.99 L90.23 303.99 L90.58 303.99 L90.93 303.99 L91.29 303.99 L91.64 303.99 L92.00 303.99 L92.35 303.99 L92.70 303.99 L93.06 303.99 L93.41 303.99 L93.76 303.99 L94.12 303.99 L94.47 303.99 L94.82 303.99 L95.18 303.99 L95.53 303.99 L95.89 303.99 L96.24 303.99 L96.59 303.99 L96.95 303.99 L97.30 303.99 L97.65 303.99 L98.01 303.99 L98.36 303.99 L98.71 303.99 L99.07 303.99 L99.42 303.99 L99.78 303.99 L100.13 303.99 L100.48 303.99 L100.84 303.99 L101.19 303.99 L101.54 303.99 L101.90 303.99 L102.25 303.99 L102.60 303.99 L102.96 303.99 L103.31 303.99 L103.67 303.99 L104.02 303.99 L104.37 303.99 L104.73 303.99 L105.08 303.99 L105.43 303.99 L105.79 303.99 L106.14 303.99 L106.49 303.99 L106.85 303.99 L107.20 303.99 L107.56 303.99 L107.91 303.99 L108.26 303.99 L108.62 303.99 L108.97 303.99 L109.32 303.99 L109.68 303.99 L110.03 303.99 L110.38 303.99 L110.74 303.99 L111.09 303.99 L111.45 303.99 L111.80 303.99 L112.15 303.99 L112.51 303.99 L112.86 303.99 L113.21 303.99 L113.57 303.99 L113.92 303.99 L114.27 303.98 L114.63 303.98 L114.98 303.98 L115.34 303.98 L115.69 303.98 L116.04 303.98 L116.40 303.98 L116.75 303.98 L117.10 303.98 L117.46 303.98 L117.81 303.98 L118.16 303.98 L118.52 303.98 L118.87 303.98 L119.23 303.98 L119.58 303.98 L119.93 303.98 L120.29 303.98 L120.64 303.98 L120.99 303.98 L121.35 303.98 L121.70 303.98 L122.05 303.98 L122.41 303.98 L122.76 303.98 L123.12 303.98 L123.47 303.98 L123.82 303.98 L124.18 303.98 L124.53 303.98 L124.88 303.98 L125.24 303.98 L125.59 303.98 L125.94 303.98 L126.30 303.98 L126.65 303.98 L127.01 303.98 L127.36 303.98 L127.71 303.98 L128.07 303.98 L128.42 303.98 L128.77 303.98 L129.13 303.98 L129.48 303.98 L129.83 303.98 L130.19 303.98 L130.54 303.98 L130.90 303.98 L131.25 303.98 L131.60 303.98 L131.96 303.98 L132.31 303.98 L132.66 303.98 L133.02 303.98 L133.37 303.98 L133.72 303.98 L134.08 303.98 L134.43 303.98 L134.79 303.98 L135.14 303.98 L135.49 303.98 L135.85 303.98 L136.20 303.98 L136.55 303.98 L136.91 303.98 L137.26 303.97 L137.62 303.97 L137.97 303.97 L138.32 303.97 L138.68 303.97 L139.03 303.97 L139.38 303.97 L139.74 303.97 L140.09 303.97 L140.44 303.97 L140.80 303.97 L141.15 303.97 L141.51 303.97 L141.86 303.97 L142.21 303.97 L142.57 303.97 L142.92 303.97 L143.27 303.97 L143.63 303.97 L143.98 303.97 L144.33 303.97 L144.69 303.97 L145.04 303.97 L145.40 303.97 L145.75 303.97 L146.10 303.97 L146.46 303.97 L146.81 303.97 L147.16 303.97 L147.52 303.97 L147.87 303.97 L148.22 303.97 L148.58 303.97 L148.93 303.96 L149.29 303.96 L149.64 303.96 L149.99 303.96 L150.35 303.96 L150.70 303.96 L151.05 303.96 L151.41 303.96 L151.76 303.96 L152.11 303.96 L152.47 303.96 L152.82 303.96 L153.18 303.96 L153.53 303.96 L153.88 303.96 L154.24 303.96 L154.59 303.96 L154.94 303.96 L155.30 303.96 L155.65 303.96 L156.00 303.96 L156.36 303.96 L156.71 303.95 L157.07 303.95 L157.42 303.95 L157.77 303.95 L158.13 303.95 L158.48 303.95 L158.83 303.95 L159.19 303.95 L159.54 303.95 L159.89 303.95 L160.25 303.95 L160.60 303.95 L160.96 303.95 L161.31 303.95 L161.66 303.95 L162.02 303.95 L162.37 303.95 L162.72 303.94 L163.08 303.94 L163.43 303.94 L163.78 303.94 L164.14 303.94 L164.49 303.94 L164.85 303.94 L165.20 303.94 L165.55 303.94 L165.91 303.94 L166.26 303.94 L166.61 303.94 L166.97 303.94 L167.32 303.93 L167.67 303.93 L168.03 303.93 L168.38 303.93 L168.74 303.93 L169.09 303.93 L169.44 303.93 L169.80 303.93 L170.15 303.93 L170.50 303.93 L170.86 303.92 L171.21 303.92 L171.56 303.92 L171.92 303.92 L172.27 303.92 L172.63 303.92 L172.98 303.92 L173.33 303.92 L173.69 303.92 L174.04 303.91 L174.39 303.91 L174.75 303.91 L175.10 303.91 L175.45 303.91 L175.81 303.91 L176.16 303.91 L176.52 303.91 L176.87 303.90 L177.22 303.90 L177.58 303.90 L177.93 303.90 L178.28 303.90 L178.64 303.90 L178.99 303.90 L179.34 303.89 L179.70 303.89 L180.05 303.89 L180.41 303.89 L180.76 303.89 L181.11 303.89 L181.47 303.88 L181.82 303.88 L182.17 303.88 L182.53 303.88 L182.88 303.88 L183.23 303.88 L183.59 303.87 L183.94 303.87 L184.30 303.87 L184.65 303.87 L185.00 303.87 L185.36 303.86 L185.71 303.86 L186.06 303.86 L186.42 303.86 L186.77 303.85 L187.12 303.85 L187.48 303.85 L187.83 303.85 L188.19 303.85 L188.54 303.84 L188.89 303.84 L189.25 303.84 L189.60 303.84 L189.95 303.83 L190.31 303.83 L190.66 303.83 L191.02 303.82 L191.37 303.82 L191.72 303.82 L192.08 303.82 L192.43 303.81 L192.78 303.81 L193.14 303.81 L193.49 303.80 L193.84 303.80 L194.20 303.80 L194.55 303.79 L194.91 303.79 L195.26 303.79 L195.61 303.78 L195.97 303.78 L196.32 303.77 L196.67 303.77 L197.03 303.77 L197.38 303.76 L197.73 303.76 L198.09 303.75 L198.44 303.75 L198.80 303.75 L199.15 303.74 L199.50 303.74 L199.86 303.73 L200.21 303.73 L200.56 303.72 L200.92 303.72 L201.27 303.71 L201.62 303.71 L201.98 303.70 L202.33 303.70 L202.69 303.69 L203.04 303.69 L203.39 303.68 L203.75 303.68 L204.10 303.67 L204.45 303.66 L204.81 303.66 L205.16 303.65 L205.51 303.65 L205.87 303.64 L206.22 303.63 L206.58 303.63 L206.93 303.62 L207.28 303.61 L207.64 303.61 L207.99 303.60 L208.34 303.59 L208.70 303.58 L209.05 303.58 L209.40 303.57 L209.76 303.56 L210.11 303.55 L210.47 303.54 L210.82 303.53 L211.17 303.52 L211.53 303.52 L211.88 303.51 L212.23 303.50 L212.59 303.49 L212.94 303.48 L213.29 303.47 L213.65 303.46 L214.00 303.45 L214.36 303.44 L214.71 303.43 L215.06 303.41 L215.42 303.40 L215.77 303.39 L216.12 303.38 L216.48 303.37 L216.83 303.36 L217.18 303.34 L217.54 303.33 L217.89 303.32 L218.25 303.30 L218.60 303.29 L218.95 303.28 L219.31 303.26 L219.66 303.25 L220.01 303.23 L220.37 303.22 L220.72 303.20 L221.07 303.18 L221.43 303.17 L221.78 303.15 L222.14 303.13 L222.49 303.12 L222.84 303.10 L223.20 303.08 L223.55 303.06 L223.90 303.04 L224.26 303.02 L224.61 303.00 L224.96 302.98 L225.32 302.96 L225.67 302.94 L226.03 302.92 L226.38 302.89 L226.73 302.87 L227.09 302.85 L227.44 302.82 L227.79 302.80 L228.15 302.77 L228.50 302.75 L228.85 302.72 L229.21 302.69 L229.56 302.67 L229.92 302.64 L230.27 302.61 L230.62 302.58 L230.98 302.55 L231.33 302.52 L231.68 302.49 L232.04 302.45 L232.39 302.42 L232.74 302.39 L233.10 302.35 L233.45 302.31 L233.81 302.28 L234.16 302.24 L234.51 302.20 L234.87 302.16 L235.22 302.12 L235.57 302.08 L235.93 302.04 L236.28 302.00 L236.63 301.95 L236.99 301.91 L237.34 301.86 L237.70 301.81 L238.05 301.76 L238.40 301.72 L238.76 301.66 L239.11 301.61 L239.46 301.56 L239.82 301.50 L240.17 301.45 L240.53 301.39 L240.88 301.33 L241.23 301.27 L241.59 301.21 L241.94 301.15 L242.29 301.08 L242.65 301.02 L243.00 300.95 L243.35 300.88 L243.71 300.81 L244.06 300.73 L244.42 300.66 L244.77 300.58 L245.12 300.50 L245.48 300.42 L245.83 300.34 L246.18 300.25 L246.54 300.17 L246.89 300.08 L247.24 299.99 L247.60 299.89 L247.95 299.80 L248.31 299.70 L248.66 299.60 L249.01 299.50 L249.37 299.39 L249.72 299.28 L250.07 299.17 L250.43 299.06 L250.78 298.94 L251.13 298.82 L251.49 298.70 L251.84 298.57 L252.20 298.44 L252.55 298.31 L252.90 298.18 L253.26 298.04 L253.61 297.89 L253.96 297.75 L254.32 297.60 L254.67 297.45 L255.02 297.29 L255.38 297.13 L255.73 296.96 L256.09 296.79 L256.44 296.62 L256.79 296.44 L257.15 296.26 L257.50 296.07 L257.85 295.88 L258.21 295.68 L258.56 295.48 L258.91 295.27 L259.27 295.06 L259.62 294.84 L259.98 294.62 L260.33 294.39 L260.34 294.38"/>
<path id="c3s1" d="M260.34 294.38 L260.68 294.15 L261.04 293.91 L261.39 293.66 L261.74 293.41 L262.10 293.15 L262.45 292.88 L262.80 292.61 L263.16 292.33 L263.51 292.04 L263.87 291.75 L264.22 291.45 L264.57 291.14 L264.93 290.82 L265.28 290.49 L265.63 290.16 L265.99 289.82 L266.34 289.47 L266.69 289.11 L267.05 288.74 L267.40 288.36 L267.76 287.97 L268.11 287.57 L268.46 287.17 L268.82 286.75 L269.17 286.32 L269.52 285.88 L269.88 285.43 L270.23 284.97 L270.58 284.50 L270.94 284.02 L271.29 283.52 L271.65 283.01 L272.00 282.49 L272.35 281.96 L272.71 281.42 L273.06 280.86 L273.41 280.28 L273.77 279.70 L274.12 279.10 L274.47 278.48 L274.83 277.85 L275.18 277.21 L275.54 276.55 L275.89 275.87 L276.24 275.18 L276.60 274.47 L276.95 273.74 L277.30 273.00 L277.66 272.24 L278.01 271.47 L278.36 270.67 L278.72 269.86 L279.07 269.03 L279.43 268.18 L279.78 267.31 L280.13 266.42 L280.49 265.51 L280.84 264.59 L281.19 263.64 L281.55 262.67 L281.90 261.68 L282.25 260.67 L282.61 259.64 L282.96 258.58 L283.32 257.51 L283.67 256.41 L284.02 255.29 L284.38 254.15 L284.73 252.98 L285.08 251.79 L285.44 250.58 L285.79 249.34 L286.15 248.08 L286.50 246.80 L286.85 245.49 L287.21 244.16 L287.56 242.80 L287.91 241.42 L288.27 240.01 L288.62 238.58 L288.97 237.13 L289.33 235.65 L289.68 234.14 L290.04 232.61 L290.39 231.06 L290.74 229.48 L291.10 227.88 L291.45 226.25 L291.80 224.60 L292.16 222.93 L292.51 221.23 L292.86 219.50 L293.22 217.76 L293.57 215.99 L293.93 214.19 L294.28 212.38 L294.63 210.54 L294.99 208.68 L295.34 206.80 L295.69 204.90 L296.05 202.98 L296.40 201.04 L296.75 199.08 L297.11 197.10 L297.46 195.11 L297.82 193.09 L298.17 191.06 L298.52 189.01 L298.88 186.95 L299.23 184.88 L299.58 182.79 L299.94 180.68 L300.29 178.57 L300.64 176.44 L301.00 174.31 L301.35 172.16 L301.71 170.01 L302.06 167.85 L302.41 165.68 L302.77 163.51 L303.12 161.33 L303.47 159.15 L303.83 156.96 L304.18 154.78 L304.53 152.59 L304.89 150.41 L305.24 148.22 L305.60 146.04 L305.95 143.87 L306.30 141.69 L306.66 139.53 L307.01 137.37 L307.36 135.22 L307.72 133.07 L308.07 130.94 L308.42 128.81 L308.78 126.70 L309.13 124.60 L309.49 122.52 L309.84 120.45 L310.19 118.39 L310.55 116.35 L310.90 114.32 L311.25 112.32 L311.61 110.33 L311.96 108.36 L312.31 106.41 L312.67 104.48 L313.02 102.58 L313.38 100.69 L313.73 98.83 L314.08 96.99 L314.44 95.17 L314.79 93.38 L315.14 91.61 L315.50 89.86 L315.85 88.14 L316.20 86.45 L316.56 84.78 L316.91 83.13 L317.27 81.52 L317.62 79.93 L317.97 78.36 L318.33 76.82 L318.68 75.31 L319.03 73.83 L319.39 72.37 L319.74 70.94 L320.09 69.54 L320.45 68.16 L320.80 66.81 L321.16 65.49 L321.51 64.19 L321.86 62.92 L322.22 61.68 L322.57 60.46 L322.92 59.27 L323.28 58.10 L323.63 56.96 L323.98 55.85 L324.34 54.76 L324.69 53.69 L325.05 52.65 L325.40 51.64 L325.75 50.65 L326.11 49.68 L326.46 48.73 L326.81 47.81 L327.17 46.91 L327.52 46.04 L327.87 45.18 L328.23 44.35 L328.58 43.54 L328.94 42.75 L329.29 41.98 L329.64 41.23 L330.00 40.50 L330.35 39.79 L330.70 39.10 L331.06 38.43 L331.41 37.77 L331.76 37.14 L332.12 36.52 L332.47 35.92 L332.83 35.33 L333.18 34.77 L333.53 34.21 L333.89 33.68 L334.24 33.16 L334.59 32.65 L334.95 32.16 L335.30 31.68 L335.66 31.22 L336.01 30.77 L336.36 30.34 L336.72 29.91 L337.07 29.50 L337.42 29.10 L337.78 28.72 L338.13 28.34 L338.48 27.98 L338.84 27.63 L339.19 27.29 L339.55 26.96 L339.90 26.64 L340.25 26.33 L340.61 26.03 L340.96 25.74 L341.31 25.45 L341.67 25.18 L342.02 24.92 L342.37 24.66 L342.69 24.44"/>
<path id="c3s2" d="M342.69 24.44 L342.73 24.41 L343.08 24.17 L343.44 23.94 L343.79 23.71 L344.14 23.50 L344.50 23.28 L344.85 23.08 L345.20 22.88 L345.56 22.69 L345.91 22.51 L346.26 22.33 L346.62 22.16 L346.97 21.99 L347.33 21.83 L347.68 21.67 L348.03 21.52 L348.39 21.38 L348.74 21.23 L349.09 21.10 L349.45 20.97 L349.80 20.84 L350.15 20.72 L350.51 20.60 L350.86 20.48 L351.22 20.37 L351.57 20.26 L351.92 20.16 L352.28 20.06 L352.63 19.96 L352.98 19.87 L353.34 19.78 L353.69 19.69 L354.04 19.61 L354.40 19.53 L354.75 19.45 L355.11 19.37 L355.46 19.30 L355.81 19.23 L356.17 19.16 L356.52 19.10 L356.87 19.03 L357.23 18.97 L357.58 18.91 L357.93 18.86 L358.29 18.80 L358.64 18.75 L359.00 18.70 L359.35 18.65 L359.70 18.60 L360.06 18.55 L360.41 18.51 L360.76 18.47 L361.12 18.42 L361.47 18.39 L361.82 18.35 L362.18 18.31 L362.53 18.27 L362.89 18.24 L363.24 18.21 L363.59 18.18 L363.95 18.14 L364.30 18.11 L364.65 18.09 L365.01 18.06 L365.36 18.03 L365.71 18.01 L366.07 17.98 L366.42 17.96 L366.78 17.94 L367.13 17.91 L367.48 17.89 L367.84 17.87 L368.19 17.85 L368.54 17.83 L368.90 17.81 L369.25 17.80 L369.60 17.78 L369.96 17.76 L370.31 17.75 L370.67 17.73 L371.02 17.72 L371.37 17.70 L371.73 17.69 L372.08 17.68 L372.43 17.66 L372.79 17.65 L373.14 17.64 L373.49 17.63 L373.85 17.62 L374.20 17.61 L374.56 17.60 L374.91 17.59 L375.26 17.58 L375.62 17.57 L375.97 17.56 L376.32 17.55 L376.68 17.55 L377.03 17.54 L377.38 17.53 L377.74 17.52 L378.09 17.52 L378.45 17.51 L378.80 17.50 L379.15 17.50 L379.51 17.49 L379.86 17.49 L380.21 17.48 L380.57 17.48 L380.92 17.47 L381.27 17.47 L381.63 17.46 L381.98 17.46 L382.34 17.45 L382.69 17.45 L383.04 17.45 L383.40 17.44 L383.75 17.44 L384.10 17.43 L384.46 17.43 L384.81 17.43 L385.17 17.42 L385.52 17.42 L385.87 17.42 L386.23 17.42 L386.58 17.41 L386.93 17.41 L387.29 17.41 L387.64 17.41 L387.99 17.40 L388.35 17.40 L388.70 17.40 L389.06 17.40 L389.41 17.40 L389.76 17.39 L390.12 17.39 L390.47 17.39 L390.82 17.39 L391.18 17.39 L391.53 17.39 L391.88 17.38 L392.24 17.38 L392.59 17.38 L392.95 17.38 L393.30 17.38 L393.65 17.38 L394.01 17.38 L394.36 17.38 L394.71 17.37 L395.07 17.37 L395.42 17.37 L395.77 17.37 L396.13 17.37 L396.48 17.37 L396.84 17.37 L397.19 17.37 L397.54 17.37 L397.90 17.37 L398.25 17.37 L398.60 17.37 L398.96 17.36 L399.31 17.36 L399.66 17.36 L400.02 17.36 L400.37 17.36 L400.73 17.36 L401.08 17.36 L401.43 17.36 L401.79 17.36 L406.03 17.36 L414.52 17.35 L434.68 17.35 L454.83 17.35 L474.99 17.35 L495.15 17.35 L515.31 17.35 L535.46 17.35 L555.62 17.35 L558.45 17.35"/>
<clipPath id="rh"><rect x="300" y="0" width="269" height="366"/></clipPath>
<mask id="m0" maskUnits="userSpaceOnUse" x="0" y="0" width="569" height="366"><rect width="569" height="366" fill="#fff"/><g clip-path="url(#rh)" fill="none" stroke="#000" stroke-width="2.35" stroke-linejoin="round" stroke-linecap="square">
<use href="#c1s0" stroke-dasharray="3.200 4.150"/><use href="#c1s1" stroke-dasharray="3.200 4.122"/><use href="#c1s2" stroke-dasharray="3.200 4.150"/>
<use href="#c2s0" stroke-dasharray="3.200 4.150"/><use href="#c2s1" stroke-dasharray="3.200 4.083"/><use href="#c2s2" stroke-dasharray="3.200 4.150"/>
<use href="#c3s0" stroke-dasharray="3.200 4.150"/><use href="#c3s1" stroke-dasharray="3.200 4.168"/><use href="#c3s2" stroke-dasharray="3.200 4.150"/>
</g></mask>
<mask id="m1" maskUnits="userSpaceOnUse" x="0" y="0" width="569" height="366"><rect width="569" height="366" fill="#fff"/><g clip-path="url(#rh)" fill="none" stroke="#000" stroke-width="2.35" stroke-linejoin="round" stroke-linecap="square">
<use href="#c2s0" stroke-dasharray="3.200 4.150"/><use href="#c2s1" stroke-dasharray="3.200 4.083"/><use href="#c2s2" stroke-dasharray="3.200 4.150"/>
<use href="#c3s0" stroke-dasharray="3.200 4.150"/><use href="#c3s1" stroke-dasharray="3.200 4.168"/><use href="#c3s2" stroke-dasharray="3.200 4.150"/>
</g></mask>
<mask id="m2" maskUnits="userSpaceOnUse" x="0" y="0" width="569" height="366"><rect width="569" height="366" fill="#fff"/><g clip-path="url(#rh)" fill="none" stroke="#000" stroke-width="2.35" stroke-linejoin="round" stroke-linecap="square">
<use href="#c3s0" stroke-dasharray="3.200 4.150"/><use href="#c3s1" stroke-dasharray="3.200 4.168"/><use href="#c3s2" stroke-dasharray="3.200 4.150"/>
</g></mask>
</defs>
<g fill="none" stroke="#000000" stroke-width="1.75" stroke-linejoin="round" stroke-linecap="square" mask="url(#m0)"><use href="#c0s0"/></g>
<g fill="none" stroke="#ff0000" stroke-width="1.75" stroke-linejoin="round" stroke-linecap="square" mask="url(#m1)"><use href="#c1s0" stroke-dasharray="3.800 3.550"/><use href="#c1s1" stroke-dasharray="3.800 3.522"/><use href="#c1s2" stroke-dasharray="3.800 3.550"/></g>
<g fill="none" stroke="#0000ff" stroke-width="1.75" stroke-linejoin="round" stroke-linecap="square" mask="url(#m2)"><use href="#c2s0" stroke-dasharray="3.800 3.550"/><use href="#c2s1" stroke-dasharray="3.800 3.483"/><use href="#c2s2" stroke-dasharray="3.800 3.550"/></g>
<g fill="none" stroke="#ff8000" stroke-width="1.75" stroke-linejoin="round" stroke-linecap="square"><use href="#c3s0" stroke-dasharray="3.800 3.550"/><use href="#c3s1" stroke-dasharray="3.800 3.568"/><use href="#c3s2" stroke-dasharray="3.800 3.550"/></g>
<line x1="63.35" y1="319.60" x2="63.35" y2="315.00" stroke="#111" stroke-width="1"/>
<line x1="63.35" y1="2.00" x2="63.35" y2="6.90" stroke="#777" stroke-width="0.6"/>
<line x1="88.11" y1="319.60" x2="88.11" y2="316.80" stroke="#111" stroke-width="1"/>
<line x1="88.11" y1="2.00" x2="88.11" y2="5.10" stroke="#777" stroke-width="0.6"/>
<line x1="112.86" y1="319.60" x2="112.86" y2="316.80" stroke="#111" stroke-width="1"/>
<line x1="112.86" y1="2.00" x2="112.86" y2="5.10" stroke="#777" stroke-width="0.6"/>
<line x1="137.62" y1="319.60" x2="137.62" y2="316.80" stroke="#111" stroke-width="1"/>
<line x1="137.62" y1="2.00" x2="137.62" y2="5.10" stroke="#777" stroke-width="0.6"/>
<line x1="162.37" y1="319.60" x2="162.37" y2="316.80" stroke="#111" stroke-width="1"/>
<line x1="162.37" y1="2.00" x2="162.37" y2="5.10" stroke="#777" stroke-width="0.6"/>
<line x1="187.12" y1="319.60" x2="187.12" y2="315.00" stroke="#111" stroke-width="1"/>
<line x1="187.12" y1="2.00" x2="187.12" y2="6.90" stroke="#777" stroke-width="0.6"/>
<line x1="211.88" y1="319.60" x2="211.88" y2="316.80" stroke="#111" stroke-width="1"/>
<line x1="211.88" y1="2.00" x2="211.88" y2="5.10" stroke="#777" stroke-width="0.6"/>
<line x1="236.63" y1="319.60" x2="236.63" y2="316.80" stroke="#111" stroke-width="1"/>
<line x1="236.63" y1="2.00" x2="236.63" y2="5.10" stroke="#777" stroke-width="0.6"/>
<line x1="261.39" y1="319.60" x2="261.39" y2="316.80" stroke="#111" stroke-width="1"/>
<line x1="261.39" y1="2.00" x2="261.39" y2="5.10" stroke="#777" stroke-width="0.6"/>
<line x1="286.15" y1="319.60" x2="286.15" y2="316.80" stroke="#111" stroke-width="1"/>
<line x1="286.15" y1="2.00" x2="286.15" y2="5.10" stroke="#777" stroke-width="0.6"/>
<line x1="310.90" y1="319.60" x2="310.90" y2="315.00" stroke="#111" stroke-width="1"/>
<line x1="310.90" y1="2.00" x2="310.90" y2="6.90" stroke="#777" stroke-width="0.6"/>
<line x1="335.66" y1="319.60" x2="335.66" y2="316.80" stroke="#111" stroke-width="1"/>
<line x1="335.66" y1="2.00" x2="335.66" y2="5.10" stroke="#777" stroke-width="0.6"/>
<line x1="360.41" y1="319.60" x2="360.41" y2="316.80" stroke="#111" stroke-width="1"/>
<line x1="360.41" y1="2.00" x2="360.41" y2="5.10" stroke="#777" stroke-width="0.6"/>
<line x1="385.17" y1="319.60" x2="385.17" y2="316.80" stroke="#111" stroke-width="1"/>
<line x1="385.17" y1="2.00" x2="385.17" y2="5.10" stroke="#777" stroke-width="0.6"/>
<line x1="409.92" y1="319.60" x2="409.92" y2="316.80" stroke="#111" stroke-width="1"/>
<line x1="409.92" y1="2.00" x2="409.92" y2="5.10" stroke="#777" stroke-width="0.6"/>
<line x1="434.68" y1="319.60" x2="434.68" y2="315.00" stroke="#111" stroke-width="1"/>
<line x1="434.68" y1="2.00" x2="434.68" y2="6.90" stroke="#777" stroke-width="0.6"/>
<line x1="459.43" y1="319.60" x2="459.43" y2="316.80" stroke="#111" stroke-width="1"/>
<line x1="459.43" y1="2.00" x2="459.43" y2="5.10" stroke="#777" stroke-width="0.6"/>
<line x1="484.19" y1="319.60" x2="484.19" y2="316.80" stroke="#111" stroke-width="1"/>
<line x1="484.19" y1="2.00" x2="484.19" y2="5.10" stroke="#777" stroke-width="0.6"/>
<line x1="508.94" y1="319.60" x2="508.94" y2="316.80" stroke="#111" stroke-width="1"/>
<line x1="508.94" y1="2.00" x2="508.94" y2="5.10" stroke="#777" stroke-width="0.6"/>
<line x1="533.70" y1="319.60" x2="533.70" y2="316.80" stroke="#111" stroke-width="1"/>
<line x1="533.70" y1="2.00" x2="533.70" y2="5.10" stroke="#777" stroke-width="0.6"/>
<line x1="558.45" y1="319.60" x2="558.45" y2="315.00" stroke="#111" stroke-width="1"/>
<line x1="558.45" y1="2.00" x2="558.45" y2="6.90" stroke="#777" stroke-width="0.6"/>
<line x1="53.60" y1="318.33" x2="56.40" y2="318.33" stroke="#111" stroke-width="1"/>
<line x1="568.20" y1="318.33" x2="565.40" y2="318.33" stroke="#888" stroke-width="0.5"/>
<line x1="53.60" y1="304.00" x2="58.20" y2="304.00" stroke="#111" stroke-width="1"/>
<line x1="568.20" y1="304.00" x2="563.60" y2="304.00" stroke="#888" stroke-width="0.5"/>
<line x1="53.60" y1="289.67" x2="56.40" y2="289.67" stroke="#111" stroke-width="1"/>
<line x1="568.20" y1="289.67" x2="565.40" y2="289.67" stroke="#888" stroke-width="0.5"/>
<line x1="53.60" y1="275.33" x2="56.40" y2="275.33" stroke="#111" stroke-width="1"/>
<line x1="568.20" y1="275.33" x2="565.40" y2="275.33" stroke="#888" stroke-width="0.5"/>
<line x1="53.60" y1="261.00" x2="56.40" y2="261.00" stroke="#111" stroke-width="1"/>
<line x1="568.20" y1="261.00" x2="565.40" y2="261.00" stroke="#888" stroke-width="0.5"/>
<line x1="53.60" y1="246.67" x2="58.20" y2="246.67" stroke="#111" stroke-width="1"/>
<line x1="568.20" y1="246.67" x2="563.60" y2="246.67" stroke="#888" stroke-width="0.5"/>
<line x1="53.60" y1="232.34" x2="56.40" y2="232.34" stroke="#111" stroke-width="1"/>
<line x1="568.20" y1="232.34" x2="565.40" y2="232.34" stroke="#888" stroke-width="0.5"/>
<line x1="53.60" y1="218.00" x2="56.40" y2="218.00" stroke="#111" stroke-width="1"/>
<line x1="568.20" y1="218.00" x2="565.40" y2="218.00" stroke="#888" stroke-width="0.5"/>
<line x1="53.60" y1="203.67" x2="56.40" y2="203.67" stroke="#111" stroke-width="1"/>
<line x1="568.20" y1="203.67" x2="565.40" y2="203.67" stroke="#888" stroke-width="0.5"/>
<line x1="53.60" y1="189.34" x2="58.20" y2="189.34" stroke="#111" stroke-width="1"/>
<line x1="568.20" y1="189.34" x2="563.60" y2="189.34" stroke="#888" stroke-width="0.5"/>
<line x1="53.60" y1="175.01" x2="56.40" y2="175.01" stroke="#111" stroke-width="1"/>
<line x1="568.20" y1="175.01" x2="565.40" y2="175.01" stroke="#888" stroke-width="0.5"/>
<line x1="53.60" y1="160.68" x2="56.40" y2="160.68" stroke="#111" stroke-width="1"/>
<line x1="568.20" y1="160.68" x2="565.40" y2="160.68" stroke="#888" stroke-width="0.5"/>
<line x1="53.60" y1="146.34" x2="56.40" y2="146.34" stroke="#111" stroke-width="1"/>
<line x1="568.20" y1="146.34" x2="565.40" y2="146.34" stroke="#888" stroke-width="0.5"/>
<line x1="53.60" y1="132.01" x2="58.20" y2="132.01" stroke="#111" stroke-width="1"/>
<line x1="568.20" y1="132.01" x2="563.60" y2="132.01" stroke="#888" stroke-width="0.5"/>
<line x1="53.60" y1="117.68" x2="56.40" y2="117.68" stroke="#111" stroke-width="1"/>
<line x1="568.20" y1="117.68" x2="565.40" y2="117.68" stroke="#888" stroke-width="0.5"/>
<line x1="53.60" y1="103.35" x2="56.40" y2="103.35" stroke="#111" stroke-width="1"/>
<line x1="568.20" y1="103.35" x2="565.40" y2="103.35" stroke="#888" stroke-width="0.5"/>
<line x1="53.60" y1="89.01" x2="56.40" y2="89.01" stroke="#111" stroke-width="1"/>
<line x1="568.20" y1="89.01" x2="565.40" y2="89.01" stroke="#888" stroke-width="0.5"/>
<line x1="53.60" y1="74.68" x2="58.20" y2="74.68" stroke="#111" stroke-width="1"/>
<line x1="568.20" y1="74.68" x2="563.60" y2="74.68" stroke="#888" stroke-width="0.5"/>
<line x1="53.60" y1="60.35" x2="56.40" y2="60.35" stroke="#111" stroke-width="1"/>
<line x1="568.20" y1="60.35" x2="565.40" y2="60.35" stroke="#888" stroke-width="0.5"/>
<line x1="53.60" y1="46.01" x2="56.40" y2="46.01" stroke="#111" stroke-width="1"/>
<line x1="568.20" y1="46.01" x2="565.40" y2="46.01" stroke="#888" stroke-width="0.5"/>
<line x1="53.60" y1="31.68" x2="56.40" y2="31.68" stroke="#111" stroke-width="1"/>
<line x1="568.20" y1="31.68" x2="565.40" y2="31.68" stroke="#888" stroke-width="0.5"/>
<line x1="53.60" y1="17.35" x2="58.20" y2="17.35" stroke="#111" stroke-width="1"/>
<line x1="568.20" y1="17.35" x2="563.60" y2="17.35" stroke="#888" stroke-width="0.5"/>
<line x1="53.60" y1="3.02" x2="56.40" y2="3.02" stroke="#111" stroke-width="1"/>
<line x1="568.20" y1="3.02" x2="565.40" y2="3.02" stroke="#888" stroke-width="0.5"/>
<line x1="52.10" y1="1.50" x2="569.00" y2="1.50" stroke="#000" stroke-width="1.0"/>
<line x1="568.50" y1="0.90" x2="568.50" y2="320.90" stroke="#000" stroke-width="1.3"/>
<line x1="53.10" y1="2.00" x2="53.10" y2="321.00" stroke="#666" stroke-width="1.7"/>
<line x1="52.20" y1="320.10" x2="567.90" y2="320.10" stroke="#666" stroke-width="1.7"/>
<text transform="translate(63.05,336.30) scale(1.000,1.030)" font-size="13.00" text-anchor="middle">0.0</text>
<text transform="translate(186.82,336.30) scale(1.000,1.030)" font-size="13.00" text-anchor="middle">0.5</text>
<text transform="translate(310.60,336.30) scale(1.000,1.030)" font-size="13.00" text-anchor="middle">1.0</text>
<text transform="translate(434.38,336.30) scale(1.000,1.030)" font-size="13.00" text-anchor="middle">1.5</text>
<text transform="translate(558.15,336.30) scale(1.000,1.030)" font-size="13.00" text-anchor="middle">2.0</text>
<text transform="translate(49.90,309.40) scale(1.000,1.030)" font-size="13.00" text-anchor="end">0.0</text>
<text transform="translate(49.90,252.07) scale(1.000,1.030)" font-size="13.00" text-anchor="end">0.2</text>
<text transform="translate(49.90,194.74) scale(1.000,1.030)" font-size="13.00" text-anchor="end">0.4</text>
<text transform="translate(49.90,137.41) scale(1.000,1.030)" font-size="13.00" text-anchor="end">0.6</text>
<text transform="translate(49.90,80.08) scale(1.000,1.030)" font-size="13.00" text-anchor="end">0.8</text>
<text transform="translate(49.90,22.75) scale(1.000,1.030)" font-size="13.00" text-anchor="end">1.0</text>
<text transform="translate(310.90,364.80) scale(1.000,1.055)" font-size="21.90" text-anchor="middle">Ω</text>
<g transform="translate(18.20,183.76) rotate(-90)">
<text transform="translate(0.00,0.00) scale(1.000,1.030)" font-size="22.90" text-anchor="start">Γ</text>
<text transform="translate(13.24,0.00) scale(1.000,1.100)" font-size="22.90" text-anchor="start">(</text>
<text transform="translate(20.86,0.00) scale(1.000,1.030)" font-size="22.90" text-anchor="start">Ω</text>
<text transform="translate(37.88,0.00) scale(1.000,1.100)" font-size="22.90" text-anchor="start">)</text>
</g>
<line x1="464.4" y1="211.00" x2="501.4" y2="211.00" stroke="#000000" stroke-width="1.75"/>
<text transform="translate(509.00,215.60) scale(1.000,0.960)" font-size="13.50" text-anchor="start" font-style="italic">η</text>
<text transform="translate(519.40,216.40) scale(1.460,1.000)" font-size="13.00" text-anchor="start">=</text>
<text transform="translate(533.00,215.40) scale(1.000,1.000)" font-size="13.00" text-anchor="start">0.01</text>
<line x1="465.2" y1="240.20" x2="499.4" y2="240.20" stroke="#ff0000" stroke-width="1.75" stroke-linecap="square" stroke-dasharray="3.8 3.6"/>
<text transform="translate(509.00,245.00) scale(1.000,0.960)" font-size="13.50" text-anchor="start" font-style="italic">η</text>
<text transform="translate(519.40,245.80) scale(1.460,1.000)" font-size="13.00" text-anchor="start">=</text>
<text transform="translate(533.00,244.80) scale(1.000,1.000)" font-size="13.00" text-anchor="start">0.04</text>
<line x1="465.2" y1="269.80" x2="499.4" y2="269.80" stroke="#0000ff" stroke-width="1.75" stroke-linecap="square" stroke-dasharray="3.8 3.6"/>
<text transform="translate(509.00,274.40) scale(1.000,0.960)" font-size="13.50" text-anchor="start" font-style="italic">η</text>
<text transform="translate(519.40,275.20) scale(1.460,1.000)" font-size="13.00" text-anchor="start">=</text>
<text transform="translate(533.00,274.20) scale(1.000,1.000)" font-size="13.00" text-anchor="start">0.07</text>
<line x1="465.2" y1="299.20" x2="499.4" y2="299.20" stroke="#ff8000" stroke-width="1.75" stroke-linecap="square" stroke-dasharray="3.8 3.6"/>
<text transform="translate(509.00,303.80) scale(1.000,0.960)" font-size="13.50" text-anchor="start" font-style="italic">η</text>
<text transform="translate(519.40,304.60) scale(1.460,1.000)" font-size="13.00" text-anchor="start">=</text>
<text transform="translate(533.00,303.60) scale(1.000,1.000)" font-size="13.00" text-anchor="start">0.1</text>
</svg></body></html>
